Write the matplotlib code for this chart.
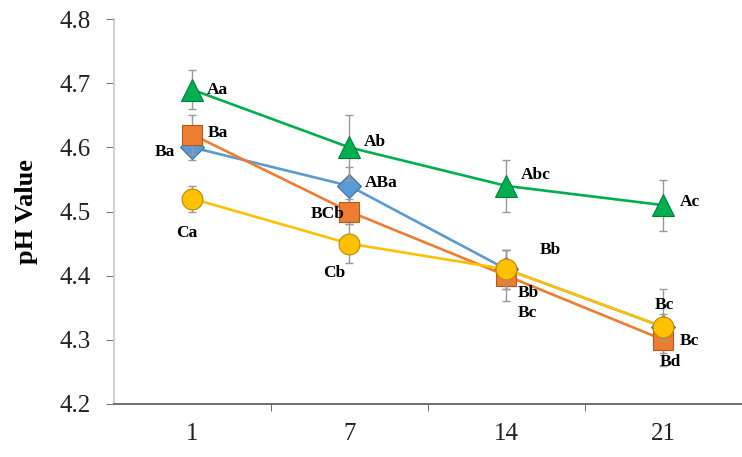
import matplotlib.pyplot as plt

# storage days
days = ["1", "7", "14", "21"]

# pH values per series
ph_blue = [4.60, 4.54, 4.41, 4.32]
ph_orange = [4.62, 4.50, 4.40, 4.30]
ph_yellow = [4.52, 4.45, 4.41, 4.32]
ph_green = [4.69, 4.60, 4.54, 4.51]

err_blue = [0.02, 0.03, 0.03, 0.06]
err_orange = [0.03, 0.02, 0.04, 0.02]
err_yellow = [0.02, 0.03, 0.03, 0.02]
err_green = [0.03, 0.05, 0.04, 0.04]

lab_blue = ["Ba", "ABa", "Bb", "Bc"]
lab_orange = ["Ba", "BCb", "Bc", "Bd"]
lab_yellow = ["Ca", "Cb", "Bb", "Bc"]
lab_green = ["Aa", "Ab", "Abc", "Ac"]


def main():
    plt.rcParams["font.family"] = ["Liberation Serif", "DejaVu Serif"]
    fig = plt.figure(figsize=(7.42, 4.57), dpi=100)
    ax = fig.add_axes([0.1536, 0.116, 0.8464, 0.842])

    x = list(range(len(days)))
    series = [
        (ph_blue, err_blue, "#5B9BD5", "#41719C", "D", 12),
        (ph_orange, err_orange, "#ED7D31", "#AE5A21", "s", 15),
        (ph_yellow, err_yellow, "#FFC000", "#BC8C00", "o", 15),
        (ph_green, err_green, "#00B050", "#007F3A", "^", 16),
    ]
    for z, (y, e, col, edge, mk, ms) in enumerate(series):
        ax.errorbar(x, y, yerr=e, fmt="none", ecolor="#999999", elinewidth=1,
                    capsize=3, capthick=1, zorder=2 + 2 * z)
        ax.plot(x, y, color=col, lw=1.9, marker=mk, markersize=ms,
                markerfacecolor=col, markeredgecolor=edge, markeredgewidth=0.8,
                zorder=3 + 2 * z)

    # letter annotations (offsets in points)
    kw = dict(textcoords="offset points", fontsize=12.5, fontweight="bold",
              va="center", zorder=20)
    offs_green = [(10, 0), (10, 4), (10, 8), (12, 2)]
    offs_orange = [(11, 1), (-28, -2), (8, -27), (-3, -16)]
    offs_blue = [(-27, -3), (11, 2), (24, 14), (-6, 16)]
    offs_yellow = [(-12, -25), (-19, -21), (8, -17), (12, -10)]
    for labs, vals, offs in [(lab_green, ph_green, offs_green),
                             (lab_orange, ph_orange, offs_orange),
                             (lab_blue, ph_blue, offs_blue),
                             (lab_yellow, ph_yellow, offs_yellow)]:
        for i, (t, v) in enumerate(zip(labs, vals)):
            ax.annotate(t, (x[i], v), xytext=offs[i], **kw)

    ax.set_xlim(-0.5, 3.5)
    ax.set_ylim(4.2, 4.8)
    ax.set_yticks([4.2, 4.3, 4.4, 4.5, 4.6, 4.7, 4.8])
    ax.set_yticklabels(["4.2", "4.3", "4.4", "4.5", "4.6", "4.7", "4.8"])
    ax.set_xticks(x)
    ax.set_xticklabels(days)
    ax.set_xticks([0.5, 1.5, 2.5], minor=True)
    ax.tick_params(axis="x", which="major", length=0, labelsize=18, pad=14,
                   colors="#222222")
    ax.tick_params(axis="x", which="minor", length=5, direction="out",
                   color="#555555")
    ax.tick_params(axis="y", length=6, direction="out", color="#777777",
                   labelsize=18, pad=11, labelcolor="#222222")
    ax.set_ylabel("pH Value", fontsize=19, fontweight="bold", labelpad=15)

    for s in ["top", "right"]:
        ax.spines[s].set_visible(False)
    ax.spines["left"].set_color("#c8c8c8")
    ax.spines["left"].set_linewidth(1.2)
    ax.spines["bottom"].set_color("#555555")
    ax.spines["bottom"].set_linewidth(1.2)

    fig.savefig("out.png", dpi=100)


if __name__ == "__main__":
    main()
